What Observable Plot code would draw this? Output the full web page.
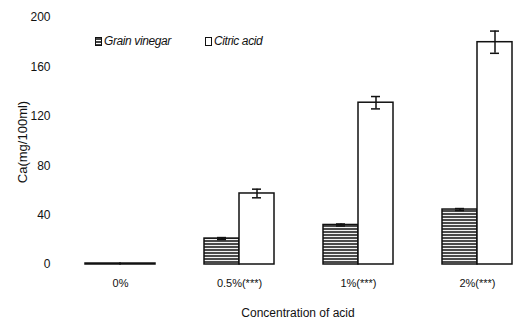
<!DOCTYPE html>
<html>
<head>
<meta charset="utf-8">
<script src="https://cdn.jsdelivr.net/npm/d3@7"></script>
<script src="https://cdn.jsdelivr.net/npm/@observablehq/plot@0.6"></script>
<style>
  html, body { margin: 0; padding: 0; background: #fff; }
  #wrap { position: relative; width: 518px; height: 323px; }
  .lg { position: absolute; top: 34px; font: italic 12px "Liberation Sans Narrow", "Liberation Sans", Arial, sans-serif; letter-spacing: -0.4px; color: #111; display: flex; align-items: center; }
  .sw { width: 7px; height: 9px; border: 1px solid #111; margin-right: 2px; box-sizing: border-box; }
  .sw.g { background: repeating-linear-gradient(#444 0 2px, #fff 2px 3px); }
  .sw.c { background: #fff; }
</style>
</head>
<body>
<div id="wrap">
  <div class="lg" style="left:95px"><span class="sw g"></span>Grain vinegar</div>
  <div class="lg" style="left:205px"><span class="sw c"></span>Citric acid</div>
</div>
<script>
const groups = ["0%", "0.5%(***)", "1%(***)", "2%(***)"];
const series = ["Grain vinegar", "Citric acid"];
const grainValues = [0.8, 21, 32, 44.5];
const grainErrors = [0.3, 0.8, 0.8, 0.8];
const citricValues = [0.8, 57.5, 131, 180];
const citricErrors = [0.3, 3.5, 5, 9];
const yTicks = [0, 40, 80, 120, 160, 200];

const data = [];
groups.forEach((g, i) => {
  data.push({group: g, series: series[0], value: grainValues[i], err: grainErrors[i]});
  data.push({group: g, series: series[1], value: citricValues[i], err: citricErrors[i]});
});
const errData = data.filter(d => d.group !== "0%");

const font = '"Liberation Sans Narrow", "Liberation Sans", Arial, sans-serif';

const chart = Plot.plot({
  width: 518,
  height: 323,
  marginLeft: 85,
  marginRight: 6,
  marginTop: 17,
  marginBottom: 59,
  style: {fontFamily: font, fontSize: "12px", color: "#111", background: "transparent"},
  fx: {domain: groups, paddingInner: 0.412, paddingOuter: 0, label: null},
  x: {domain: series, padding: 0, axis: null},
  y: {domain: [0, 200], ticks: yTicks, label: null},
  marks: [
    Plot.axisY({ticks: yTicks, tickSize: 0, tickPadding: 35, fontSize: 12, label: null}),
    Plot.axisFx({anchor: "bottom", tickSize: 0, tickPadding: 15, fontSize: 11, label: null}),
    Plot.barY(data, {
      fx: "group", x: "series", y: "value",
      fill: d => d.series === "Grain vinegar" ? "url(#hatchG)" : "white",
      stroke: "#111", strokeWidth: 1.5
    }),
    Plot.ruleX(errData, {fx: "group", x: "series", y1: d => d.value - d.err, y2: d => d.value + d.err, stroke: "#111", strokeWidth: 1.5}),
    Plot.tickY(errData, {fx: "group", x: "series", y: d => d.value + d.err, stroke: "#111", strokeWidth: 1.5, insetLeft: 13, insetRight: 13}),
    Plot.tickY(errData, {fx: "group", x: "series", y: d => d.value - d.err, stroke: "#111", strokeWidth: 1.5, insetLeft: 13, insetRight: 13})
  ]
});

const ns = "http://www.w3.org/2000/svg";
const defs = document.createElementNS(ns, "defs");
defs.innerHTML = '<pattern id="hatchG" patternUnits="userSpaceOnUse" width="6" height="3"><rect width="6" height="3" fill="#4a4a4a"/><rect y="2" width="6" height="1" fill="#f2f2f2"/></pattern>';
chart.insertBefore(defs, chart.firstChild);

const yl = document.createElementNS(ns, "text");
yl.setAttribute("transform", "translate(27,142) rotate(-90)");
yl.setAttribute("text-anchor", "middle");
yl.setAttribute("font-size", "13");
yl.setAttribute("fill", "#111");
yl.textContent = "Ca(mg/100ml)";
chart.appendChild(yl);
const xl = document.createElementNS(ns, "text");
xl.setAttribute("x", "298");
xl.setAttribute("y", "317");
xl.setAttribute("text-anchor", "middle");
xl.setAttribute("font-size", "12");
xl.setAttribute("fill", "#111");
xl.textContent = "Concentration of acid";
chart.appendChild(xl);

chart.style.position = "absolute";
chart.style.left = "0";
chart.style.top = "0";
document.getElementById("wrap").prepend(chart);
</script>
</body>
</html>
